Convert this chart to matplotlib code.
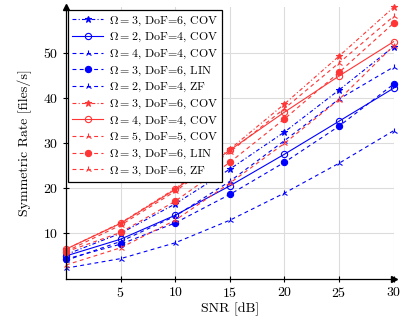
import matplotlib
matplotlib.use("Agg")
from matplotlib import pyplot as plt

# %% data
snr = [0, 5, 10, 15, 20, 25, 30]

blue_cov_o3_d6 = [5.3, 10.0, 16.5, 24.2, 32.4, 41.7, 51.3]
blue_cov_o2_d4 = [5.0, 8.7, 14.0, 20.5, 27.5, 34.8, 42.1]
blue_cov_o4_d4 = [4.0, 8.2, 13.8, 21.5, 30.5, 39.7, 46.8]
blue_lin_o3_d6 = [4.3, 7.6, 12.3, 18.6, 25.7, 33.7, 43.0]
blue_zf_o2_d4 = [2.3, 4.4, 7.9, 12.9, 18.9, 25.5, 32.7]

red_cov_o3_d6 = [6.5, 12.3, 19.9, 28.6, 38.6, 49.2, 60.0]
red_cov_o4_d4 = [6.5, 12.2, 19.7, 28.4, 36.8, 44.8, 52.4]
red_cov_o5_d5 = [6.0, 11.8, 19.3, 28.0, 37.6, 47.7, 58.0]
red_lin_o3_d6 = [5.9, 10.2, 17.1, 25.7, 35.3, 45.6, 56.5]
red_zf_o3_d6 = [3.0, 6.8, 12.9, 21.1, 29.9, 39.6, 51.5]

labels = [
    r'$\Omega = 3$, DoF=6, COV',
    r'$\Omega = 2$, DoF=4, COV',
    r'$\Omega = 4$, DoF=4, COV',
    r'$\Omega = 3$, DoF=6, LIN',
    r'$\Omega = 2$, DoF=4, ZF',
    r'$\Omega = 3$, DoF=6, COV',
    r'$\Omega = 4$, DoF=4, COV',
    r'$\Omega = 5$, DoF=5, COV',
    r'$\Omega = 3$, DoF=6, LIN',
    r'$\Omega = 3$, DoF=6, ZF',
]

# %% plot
plt.rcParams.update({
    "font.family": "serif",
    "font.serif": ["cmr10", "DejaVu Serif"],
    "mathtext.fontset": "cm",
    "axes.formatter.use_mathtext": True,
    "font.size": 10,
})

BLUE = '#0000ff'
RED = '#ff3535'
dashed = (0, (3.5, 3))
dashdot = (0, (3.5, 2, 1, 2))

fig = plt.figure(figsize=(4.11, 3.25), dpi=100)
ax = fig.add_axes([0.1606, 0.143, 0.7971, 0.8345])

series = [
    (blue_cov_o3_d6, BLUE, dashdot, '*', 'full'),
    (blue_cov_o2_d4, BLUE, '-', 'o', 'none'),
    (blue_cov_o4_d4, BLUE, dashed, '2', 'full'),
    (blue_lin_o3_d6, BLUE, dashed, 'o', 'full'),
    (blue_zf_o2_d4, BLUE, dashed, '2', 'full'),
    (red_cov_o3_d6, RED, dashdot, '*', 'full'),
    (red_cov_o4_d4, RED, '-', 'o', 'none'),
    (red_cov_o5_d5, RED, dashed, '2', 'full'),
    (red_lin_o3_d6, RED, dashed, 'o', 'full'),
    (red_zf_o3_d6, RED, dashed, '2', 'full'),
]
for (values, color, ls, marker, fill), label in zip(series, labels):
    ax.plot(snr, values, color=color, linestyle=ls, linewidth=0.8,
            marker=marker, markersize=5 if marker == '*' else 4.5,
            fillstyle=fill, markeredgewidth=0.8, label=label, clip_on=False)

ax.set_xlim(0, 30)
ax.set_ylim(0, 60)
ax.set_xticks([5, 10, 15, 20, 25, 30])
ax.set_yticks([10, 20, 30, 40, 50])
ax.tick_params(direction='inout', length=4, width=0.8)
ax.grid(True, color='#dcdcdc', linewidth=0.8)
ax.set_axisbelow(True)
for side in ('top', 'right'):
    ax.spines[side].set_visible(False)
for side in ('left', 'bottom'):
    ax.spines[side].set_linewidth(0.9)
ax.plot(1, 0, '>k', markersize=4, transform=ax.transAxes, clip_on=False)
ax.plot(0, 1, '^k', markersize=4, transform=ax.transAxes, clip_on=False)

ax.set_xlabel('SNR [dB]', labelpad=2)
ax.set_ylabel('Symmetric Rate [files/s]', labelpad=8)

lgnd = ax.legend(loc='upper left', fancybox=False, shadow=False, framealpha=1,
                 edgecolor='black', fontsize=8.6, numpoints=1, handlelength=2.6,
                 labelspacing=0.28, borderpad=0.35, handletextpad=0.45,
                 borderaxespad=0, bbox_to_anchor=(0.006, 0.99))
lgnd.get_frame().set_linewidth(0.9)

fig.savefig('out.png', dpi=100)
